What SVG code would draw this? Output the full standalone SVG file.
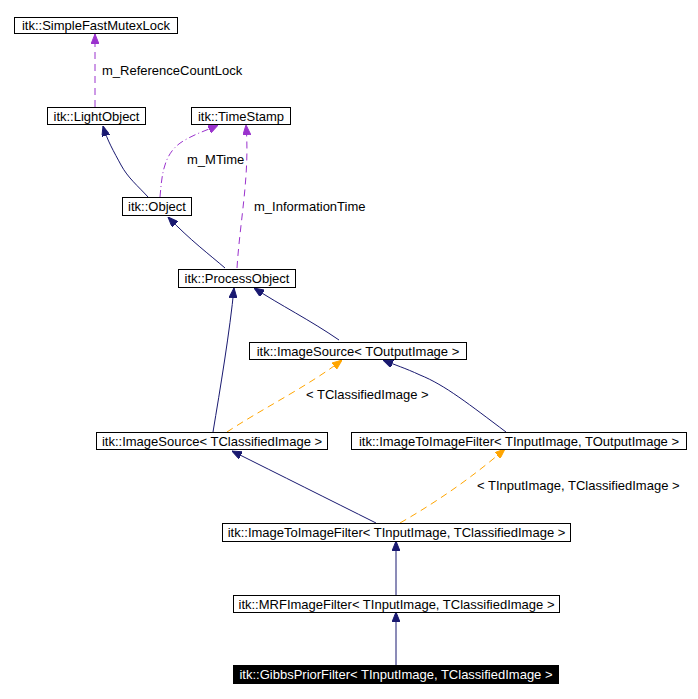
<svg xmlns="http://www.w3.org/2000/svg" width="698" height="699" viewBox="0 0 698 699">
<defs>
<style>
.box{fill:#fff;stroke:#000;stroke-width:1}
.t{font-family:"Liberation Sans",Arial,sans-serif;font-size:13px;fill:#000}
.inh{fill:none;stroke:#191970;stroke-width:1}
.use{fill:none;stroke:#9a32cd;stroke-width:1;stroke-dasharray:7,5}
.usedd{fill:none;stroke:#9a32cd;stroke-width:1;stroke-dasharray:7,3,1,3}
.tpl{fill:none;stroke:#ffa500;stroke-width:1;stroke-dasharray:7,5}
</style>
<marker id="aN" viewBox="0 0 10 8" refX="10" refY="4" markerWidth="10" markerHeight="8" markerUnits="userSpaceOnUse" orient="auto"><path d="M0,0L10,4L0,8z" fill="#191970" stroke="#191970"/></marker>
<marker id="aP" viewBox="0 0 10 8" refX="10" refY="4" markerWidth="10" markerHeight="8" markerUnits="userSpaceOnUse" orient="auto"><path d="M0,0L10,4L0,8z" fill="#9a32cd" stroke="#9a32cd"/></marker>
<marker id="aO" viewBox="0 0 10 8" refX="10" refY="4" markerWidth="10" markerHeight="8" markerUnits="userSpaceOnUse" orient="auto"><path d="M0,0L10,4L0,8z" fill="#ffa500" stroke="#ffa500"/></marker>
</defs>
<rect width="698" height="699" fill="#fff"/>
<g id="connectors">
<path class="use" d="M95,107 L95,34" marker-end="url(#aP)"/>
<text class="t" x="102" y="75">m_ReferenceCountLock</text>
<path class="inh" d="M148,197 C138,186 128,178 121,165 C114,152 107,140 103,126" marker-end="url(#aN)"/>
<path class="usedd" d="M160,197 C162,175 163,152 185,140 C197,133 208,130 218,125" marker-end="url(#aP)"/>
<text class="t" x="187" y="164">m_MTime</text>
<path class="use" d="M237,268 C240,220 250,175 246,125" marker-end="url(#aP)"/>
<text class="t" x="254" y="211">m_InformationTime</text>
<path class="inh" d="M225,268 C210,255 190,240 168,217" marker-end="url(#aN)"/>
<path class="inh" d="M339,340 C310,320 280,305 254,288" marker-end="url(#aN)"/>
<path class="inh" d="M213,432 C220,390 230,330 234,288" marker-end="url(#aN)"/>
<path class="tpl" d="M227,432 C260,410 310,385 342,360" marker-end="url(#aO)"/>
<text class="t" x="306" y="399">&lt; TClassifiedImage &gt;</text>
<path class="inh" d="M506,432 C470,405 445,385 420,375 C405,368 395,365 383,360" marker-end="url(#aN)"/>
<path class="inh" d="M376,523 C330,500 280,475 232,451" marker-end="url(#aN)"/>
<path class="tpl" d="M400,523 C440,500 475,475 505,449" marker-end="url(#aO)"/>
<text class="t" x="477" y="490">&lt; TInputImage, TClassifiedImage &gt;</text>
<path class="inh" d="M396,595 L396,541" marker-end="url(#aN)"/>
<path class="inh" d="M396,665 L396,612" marker-end="url(#aN)"/>
</g>
<g id="n_SimpleFastMutexLock"><rect class="box" x="14.5" y="17.5" width="163" height="16"/><text class="t" x="96" y="30" text-anchor="middle">itk::SimpleFastMutexLock</text></g>
<g id="n_LightObject"><rect class="box" x="47.5" y="107.5" width="98" height="17"/><text class="t" x="96.5" y="120.5" text-anchor="middle">itk::LightObject</text></g>
<g id="n_TimeStamp"><rect class="box" x="191.5" y="107.5" width="99" height="17"/><text class="t" x="241" y="120.5" text-anchor="middle">itk::TimeStamp</text></g>
<g id="n_Object"><rect class="box" x="122.5" y="197.5" width="69" height="18"/><text class="t" x="157" y="211" text-anchor="middle">itk::Object</text></g>
<g id="n_ProcessObject"><rect class="box" x="178.5" y="269.5" width="117" height="18"/><text class="t" x="237" y="283" text-anchor="middle">itk::ProcessObject</text></g>
<g id="n_ImageSourceOut"><rect class="box" x="249.5" y="342.5" width="217" height="17"/><text class="t" x="358" y="355.5" text-anchor="middle">itk::ImageSource&lt; TOutputImage &gt;</text></g>
<g id="n_ImageSourceCls"><rect class="box" x="96.5" y="432.5" width="231" height="17"/><text class="t" x="212" y="445.5" text-anchor="middle">itk::ImageSource&lt; TClassifiedImage &gt;</text></g>
<g id="n_I2IOut"><rect class="box" x="351.5" y="432.5" width="335" height="17"/><text class="t" x="519" y="445.5" text-anchor="middle">itk::ImageToImageFilter&lt; TInputImage, TOutputImage &gt;</text></g>
<g id="n_I2ICls"><rect class="box" x="222.5" y="523.5" width="348" height="18"/><text class="t" x="396.5" y="537" text-anchor="middle">itk::ImageToImageFilter&lt; TInputImage, TClassifiedImage &gt;</text></g>
<g id="n_MRF"><rect class="box" x="233.5" y="595.5" width="326" height="17"/><text class="t" x="396.5" y="608.5" text-anchor="middle">itk::MRFImageFilter&lt; TInputImage, TClassifiedImage &gt;</text></g>
<g id="n_Gibbs"><rect x="233" y="665" width="326" height="19" fill="#000"/><text class="t" x="396" y="679" text-anchor="middle" style="fill:#fff">itk::GibbsPriorFilter&lt; TInputImage, TClassifiedImage &gt;</text></g>
</svg>
